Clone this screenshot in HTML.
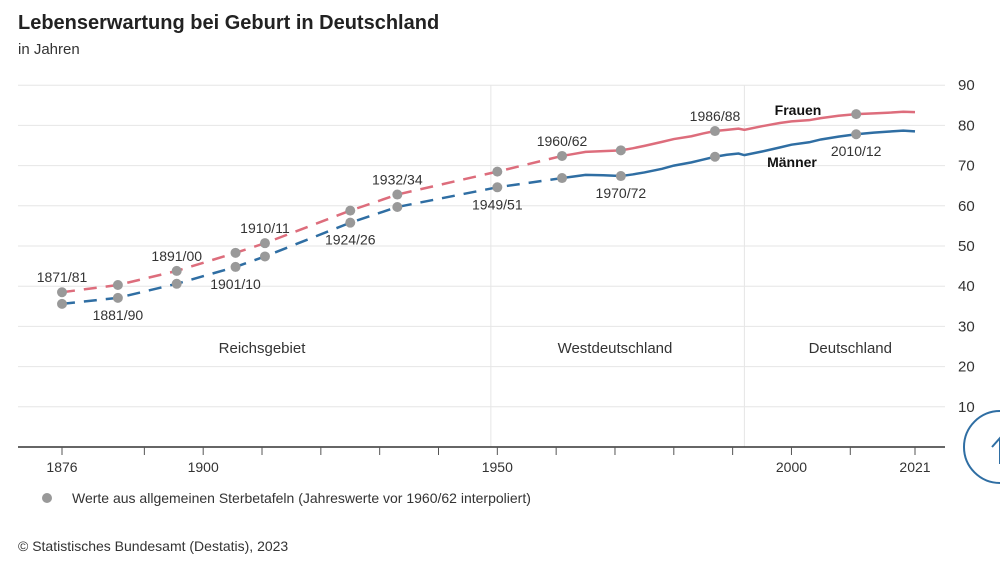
<!DOCTYPE html>
<html><head><meta charset="utf-8"><style>
body{margin:0;background:#fff;font-family:"Liberation Sans",sans-serif;}
#wrap{position:relative;width:1000px;height:563px;overflow:hidden;}
svg text{font-family:"Liberation Sans",sans-serif;}
</style></head><body>
<div id="wrap">
<svg id="chart" width="1000" height="563">
<text x="18" y="29" font-size="20" font-weight="bold" fill="#222">Lebenserwartung bei Geburt in Deutschland</text>
<text x="18" y="54" font-size="15" fill="#333">in Jahren</text>
<g id="grid"></g><g id="marks"></g>
<circle cx="47" cy="498" r="5" fill="#999"/>
<text x="72" y="503" font-size="14" fill="#333">Werte aus allgemeinen Sterbetafeln (Jahreswerte vor 1960/62 interpoliert)</text>
<text x="18" y="551" font-size="14" fill="#333">© Statistisches Bundesamt (Destatis), 2023</text>
<circle cx="1000" cy="447" r="36" fill="#fff" stroke="#2f6ea3" stroke-width="2"/>
<path d="M992 447 l8 -9 l8 9 M1000 438 v26" stroke="#2f6ea3" stroke-width="2" fill="none"/>
</svg></div>
<script>
const yTicks=[10,20,30,40,50,60,70,80,90];
const xTicks=[1876,1890,1900,1910,1920,1930,1940,1950,1960,1970,1980,1990,2000,2010,2021];
const xTickLabels=[1876,1900,1950,2000,2021];
const pointYears=[1876,1885.5,1895.5,1905.5,1910.5,1925,1933,1950,1961,1971,1987,2011];
const pointLabels=["1871/81","1881/90","1891/00","1901/10","1910/11","1924/26","1932/34","1949/51","1960/62","1970/72","1986/88","2010/12"];
const pointFemale=[38.5,40.3,43.8,48.3,50.7,58.8,62.8,68.5,72.4,73.8,78.6,82.8];
const pointMale=[35.6,37.1,40.6,44.8,47.4,55.8,59.7,64.6,66.9,67.4,72.2,77.8];
const labelSide=["f","m","f","m","f","m","f","m","f","m","f","m"];
const annualYears=[1961,1963,1965,1968,1971,1973,1975,1978,1980,1983,1985,1987,1989,1991,1992,1995,1998,2000,2003,2005,2008,2011,2014,2017,2019,2021];
const annualFemale=[72.4,72.9,73.4,73.6,73.8,74.3,74.9,75.9,76.6,77.3,78.0,78.6,78.9,79.2,78.9,79.8,80.6,81.0,81.3,81.8,82.4,82.8,83.0,83.2,83.4,83.3];
const annualMale=[66.9,67.3,67.7,67.6,67.4,67.8,68.3,69.2,70.0,70.8,71.5,72.2,72.7,73.0,72.6,73.5,74.5,75.2,75.8,76.5,77.2,77.8,78.2,78.5,78.7,78.5];
const regions=[["Reichsgebiet",1910],["Westdeutschland",1970],["Deutschland",2010]];
const dividers=[1948.9,1992];
const X=y=>62+(y-1876)*(915-62)/145, Y=v=>447-v*4.02;
const NS="http://www.w3.org/2000/svg";
function mk(p,t,a){const e=document.createElementNS(NS,t);for(const k in a)e.setAttribute(k,a[k]);p.appendChild(e);return e;}
const G=document.getElementById('grid'),M=document.getElementById('marks');
yTicks.forEach(v=>{const l=mk(G,'line',{x1:18,x2:945,y1:Y(v),y2:Y(v),stroke:'#e6e6e6'});


const t=mk(G,'text',{x:958,y:Y(v)+5,'font-size':15,fill:'#333'});t.textContent=v;

});
dividers.forEach(d=>{const l=mk(G,'line',{x1:X(d),x2:X(d),y1:85,y2:447,stroke:'#e6e6e6'});

});
const ax=mk(G,'line',{x1:18,x2:945,y1:447,y2:447,stroke:'#333','stroke-width':1.5});


xTicks.forEach(v=>{const l=mk(G,'line',{x1:X(v),x2:X(v),y1:447,y2:455,stroke:'#555'});

});
xTickLabels.forEach(v=>{const t=mk(G,'text',{x:X(v),y:472,'font-size':14,fill:'#333','text-anchor':'middle'});t.textContent=v;

});
regions.forEach(r=>{const t=mk(G,'text',{x:X(r[1]),y:353,'font-size':15,fill:'#333','text-anchor':'middle'});t.textContent=r[0];

});
function path(xs,vs){return xs.map((x,i)=>(i?'L':'M')+X(x)+' '+Y(vs[i])).join(' ');}
[[pointFemale,annualFemale,'#dd6d7c','female'],[pointMale,annualMale,'#2f6ea3','male']].forEach(s=>{
const n=pointYears.indexOf(1961);
const d=mk(M,'path',{d:path(pointYears.slice(0,n+1),s[0].slice(0,n+1)),stroke:s[2],'stroke-width':2.5,fill:'none','stroke-dasharray':'13 9'});


const a=mk(M,'path',{d:path(annualYears,s[1]),stroke:s[2],'stroke-width':2.5,fill:'none'});

});
pointYears.forEach((yr,i)=>{
[pointFemale,pointMale].forEach((arr,j)=>{const c=mk(M,'circle',{cx:X(yr),cy:Y(arr[i]),r:5,fill:'#999'});

});
const up=labelSide[i]==='f';
const t=mk(M,'text',{x:X(yr),y:up?Y(pointFemale[i])-10:Y(pointMale[i])+22,'font-size':14,fill:'#333','text-anchor':'middle'});
t.textContent=pointLabels[i];

});
const f=mk(M,'text',{x:798,y:115,'font-size':14,'font-weight':'bold',fill:'#111','text-anchor':'middle'});f.textContent='Frauen';


const m=mk(M,'text',{x:792,y:167,'font-size':14,'font-weight':'bold',fill:'#111','text-anchor':'middle'});m.textContent='Männer';


</script></body></html>
